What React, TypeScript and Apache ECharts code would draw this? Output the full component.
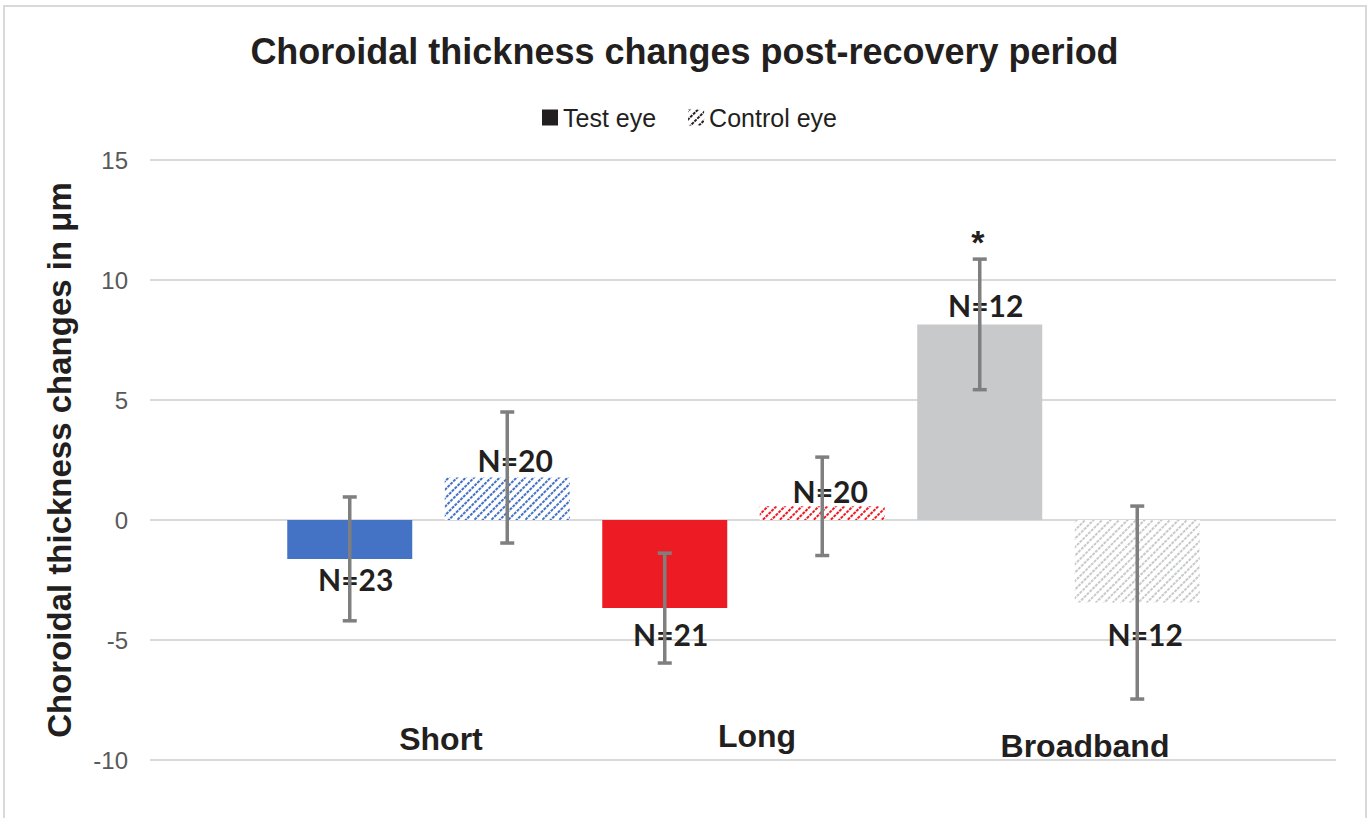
import React, { useEffect, useRef } from 'react';
import * as echarts from 'echarts';

// ---- data ----
const categories = ['Short', 'Long', 'Broadband'];
const testValues = [-1.62, -3.67, 8.15];
const controlValues = [1.77, 0.57, -3.44];
const testErrors = [2.58, 2.29, 2.72];
const controlErrors = [2.73, 2.05, 4.02];
const testN = ['N=23', 'N=21', 'N=12'];
const controlN = ['N=20', 'N=20', 'N=12'];
const significance = ['', '', '*'];
const yMin = -10;
const yMax = 15;
const yStep = 5;

// ---- styles / layout ----
const barColors = ['#4472C4', '#ED1C24', '#C8C9CB'];
const testLabelDist = [5, 11, 4];
const controlLabelDist = [3, 0, 16];
const catLabelPos = [[441, 739], [757, 736], [1085, 746]];
const ARIAL = '"Liberation Sans", Arial, sans-serif';
const NFONT = 'Lato, "Open Sans", sans-serif';
const TXT = '#231F20';

const hatch = (color: string) => ({
  symbol: 'rect',
  symbolSize: 1,
  color,
  backgroundColor: '#ffffff',
  dashArrayX: [3, 1],
  dashArrayY: [1.6, 3.4],
  rotation: -Math.PI / 4,
});

export default function App() {
  const ref = useRef<HTMLDivElement>(null);
  useEffect(() => {
    const chart = echarts.init(ref.current!, null, { renderer: 'svg' });

    const errSeries = (name: string, values: number[], errs: number[], sign: number, marks: string[]) => ({
      type: 'custom',
      name,
      xAxisIndex: 1,
      yAxisIndex: 1,
      z: 5,
      data: values.map((v, i) => [i, v - errs[i], v + errs[i]]),
      renderItem: (params: any, api: any) => {
        const i = api.value(0);
        const band = api.size([1, 0])[0];
        const lo = api.coord([i, api.value(1)]);
        const hi = api.coord([i, api.value(2)]);
        const x = lo[0] + sign * band / 4;
        const cap = 7;
        const st = { stroke: '#7F7F7F', lineWidth: 3.5 };
        const children: any[] = [
          { type: 'line', shape: { x1: x, y1: hi[1], x2: x, y2: lo[1] }, style: st },
          { type: 'line', shape: { x1: x - cap, y1: hi[1], x2: x + cap, y2: hi[1] }, style: st },
          { type: 'line', shape: { x1: x - cap, y1: lo[1], x2: x + cap, y2: lo[1] }, style: st },
        ];
        const m = marks[params.dataIndex];
        if (m) {
          children.push({
            type: 'text',
            style: {
              text: m, x: x - 2, y: hi[1], align: 'center', verticalAlign: 'bottom',
              fontFamily: ARIAL, fontWeight: 'bold', fontSize: 34, fill: TXT,
            },
          });
        }
        return { type: 'group', children };
      },
    });

    const option: any = {
      animation: false,
      backgroundColor: '#ffffff',
      title: {
        text: 'Choroidal thickness changes post-recovery period',
        left: 'center',
        top: 28,
        textStyle: { fontFamily: ARIAL, fontWeight: 'bold', fontSize: 36, color: TXT },
      },
      legend: {
        data: ['Test eye', 'Control eye'],
        left: 537,
        top: 100,
        icon: 'rect',
        itemWidth: 16,
        itemHeight: 16,
        itemGap: 32,
        textStyle: { fontFamily: ARIAL, fontSize: 25, color: TXT },
      },
      grid: [
        { left: 150, right: 33, top: 160, bottom: 58 },
        { left: 271, right: 153, top: 160, bottom: 58 },
      ],
      xAxis: [
        { type: 'category', gridIndex: 0, data: categories, show: false },
        {
          type: 'category', gridIndex: 1, data: categories,
          axisLine: { show: false }, axisTick: { show: false }, axisLabel: { show: false },
        },
      ],
      yAxis: [
        {
          type: 'value', gridIndex: 0, min: yMin, max: yMax, interval: yStep,
          axisLine: { show: false }, axisTick: { show: false },
          axisLabel: { fontFamily: ARIAL, fontSize: 24, color: '#595959', margin: 22 },
          splitLine: { lineStyle: { color: '#D9D9D9', width: 2 } },
          name: 'Choroidal thickness changes in μm',
          nameLocation: 'middle',
          nameGap: 74,
          nameTextStyle: { fontFamily: ARIAL, fontWeight: 'bold', fontSize: 33, color: TXT },
        },
        { type: 'value', gridIndex: 1, min: yMin, max: yMax, interval: yStep, show: false, splitLine: { show: false } },
      ],
      series: [
        {
          type: 'bar', name: 'Test eye', xAxisIndex: 1, yAxisIndex: 1,
          barWidth: 125, barGap: '26%',
          itemStyle: { color: TXT },
          data: testValues.map((v, i) => ({
            value: v,
            itemStyle: { color: barColors[i] },
            label: {
              show: true, formatter: testN[i], position: v < 0 ? 'bottom' : 'top',
              distance: testLabelDist[i], offset: [6, 0],
              fontFamily: NFONT, fontWeight: 'bold', fontSize: 30, color: TXT,
            },
          })),
        },
        {
          type: 'bar', name: 'Control eye', xAxisIndex: 1, yAxisIndex: 1,
          barWidth: 125, barGap: '26%',
          itemStyle: { color: '#ffffff', decal: hatch(TXT) },
          data: controlValues.map((v, i) => ({
            value: v,
            itemStyle: { color: '#ffffff', decal: hatch(barColors[i]) },
            label: {
              show: true, formatter: controlN[i], position: v < 0 ? 'bottom' : 'top',
              distance: controlLabelDist[i], offset: [8, 0],
              fontFamily: NFONT, fontWeight: 'bold', fontSize: 30, color: TXT,
            },
          })),
        },
        errSeries('Test error', testValues, testErrors, -1, significance),
        errSeries('Control error', controlValues, controlErrors, 1, ['', '', '']),
      ],
      graphic: [
        {
          type: 'rect', silent: true, z: -10,
          shape: { x: 4, y: 6, width: 1362, height: 830 },
          style: { fill: 'none', stroke: '#D9D9D9', lineWidth: 2 },
        },
        ...categories.map((c, i) => ({
          type: 'text', silent: true,
          style: {
            text: c, x: catLabelPos[i][0], y: catLabelPos[i][1], align: 'center', verticalAlign: 'middle',
            fontFamily: ARIAL, fontWeight: 'bold', fontSize: 32, fill: TXT,
          },
        })),
      ],
    };
    chart.setOption(option);
    return () => chart.dispose();
  }, []);
  return <div ref={ref} style={{ position: 'fixed', left: 0, top: 0, width: 1369, height: 818 }} />;
}
